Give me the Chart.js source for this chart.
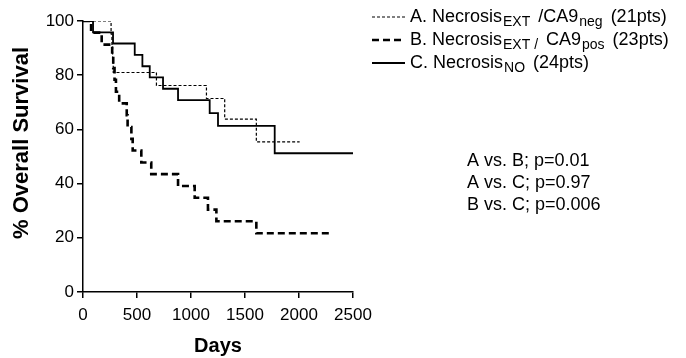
<!DOCTYPE html>
<html>
<head>
<meta charset="utf-8">
<script src="https://cdn.jsdelivr.net/npm/chart.js@4/dist/chart.umd.min.js"></script>
<style>
  body { margin: 0; background: #fff; }
  #survival { display: block; }
</style>
</head>
<body>
<canvas id="survival" width="686" height="358"></canvas>
<script>
// Kaplan-Meier curves, days at which the curve drops and the new survival %
const xTicks = [0, 500, 1000, 1500, 2000, 2500];
const yTicks = [0, 20, 40, 60, 80, 100];

const daysA = [0, 260, 268, 274, 280, 680, 1143, 1312, 1605, 2006];
const survA = [100, 95.2, 90.5, 85.7, 81.0, 76.2, 71.4, 63.8, 55.4, 55.4];

const daysB = [0, 75, 173, 270, 280, 292, 305, 335, 405, 413, 448, 460, 540, 632, 880, 1034, 1157, 1235, 1605, 2284];
const survB = [100, 95.7, 91.3, 87.0, 82.6, 78.3, 73.9, 69.6, 65.2, 60.9, 56.5, 52.2, 47.8, 43.5, 39.1, 34.8, 30.4, 26.1, 21.7, 21.7];

const daysC = [0, 93, 278, 479, 550, 618, 741, 880, 1173, 1250, 1775, 2500];
const survC = [100, 95.8, 91.7, 87.5, 83.3, 79.2, 75.0, 70.8, 66.0, 61.3, 51.2, 51.2];

// legend text pieces: [normal, subscript, normal, subscript, normal]
const legendA = ['A. Necrosis', 'EXT', ' /CA9', 'neg', ' (21pts)'];
const legendB = ['B. Necrosis', 'EXT /', ' CA9', 'pos', ' (23pts)'];
const legendC = ['C. Necrosis', 'NO', ' (24pts)'];
const pValues = ['A vs. B; p=0.01', 'A vs. C; p=0.97', 'B vs. C; p=0.006'];

const FONT = '"Liberation Sans", Arial, Helvetica, sans-serif';

function points(xs, ys) {
    var out = [];
    for (var i = 0; i < xs.length; i++) out.push({x: xs[i], y: ys[i]});
    return out;
}

const styleA = {borderDash: [3, 2], borderWidth: 1.2};
const styleB = {borderDash: [7, 4], borderWidth: 2.6};
const styleC = {borderDash: [], borderWidth: 1.8};

const extras = {
    id: 'extras',
    afterDraw(chart) {
        const c = chart.ctx;
        const area = chart.chartArea;
        c.save();
        c.fillStyle = '#000';
        c.strokeStyle = '#000';

        // axis titles
        c.font = 'bold 20px ' + FONT;
        c.textAlign = 'center';
        c.textBaseline = 'middle';
        c.fillText('Days', (area.left + area.right) / 2, 346);
        c.save();
        c.translate(22, 143);
        c.rotate(-Math.PI / 2);
        c.font = 'bold 22px ' + FONT;
        c.fillText('% Overall Survival', 0, 0);
        c.restore();

        // legend
        const rows = [[legendA, styleA, 17], [legendB, styleB, 40], [legendC, styleC, 63]];
        rows.forEach(function(r) {
            const parts = r[0], st = r[1], y = r[2];
            c.beginPath();
            c.lineWidth = st.borderWidth;
            c.setLineDash(st.borderDash);
            c.moveTo(372, y);
            c.lineTo(405, y);
            c.stroke();
            c.setLineDash([]);
            var x = 410;
            c.textAlign = 'left';
            for (var i = 0; i < parts.length; i++) {
                var sub = i % 2 === 1;
                c.font = (sub ? '14px ' : '18px ') + FONT;
                c.fillText(parts[i], x, sub ? y + 5 : y);
                x += c.measureText(parts[i]).width + (sub ? 3 : 1);
            }
        });

        // p-values
        c.font = '18px ' + FONT;
        c.textAlign = 'left';
        pValues.forEach(function(t, i) {
            c.fillText(t, 467, 161 + i * 22);
        });
        c.restore();
    }
};

new Chart(document.getElementById('survival'), {
    type: 'line',
    data: {
        datasets: [
            Object.assign({label: 'C', data: points(daysC, survC)}, styleC),
            Object.assign({label: 'B', data: points(daysB, survB)}, styleB),
            Object.assign({label: 'A', data: points(daysA, survA)}, styleA)
        ].map(function(d) {
            return Object.assign(d, {borderColor: '#000', stepped: true, pointRadius: 0, fill: false});
        })
    },
    options: {
        responsive: false,
        animation: false,
        devicePixelRatio: 1,
        layout: {padding: {left: 0, right: 333, top: 21, bottom: 0}},
        plugins: {legend: {display: false}, tooltip: {enabled: false}},
        scales: {
            x: {
                type: 'linear',
                min: 0,
                max: 2500,
                afterBuildTicks: function(s) { s.ticks = xTicks.map(function(v) { return {value: v}; }); },
                afterFit: function(s) { s.height = 66; },
                ticks: {color: '#000', font: {family: FONT, size: 17}, padding: 7, maxRotation: 0,
                        callback: function(v) { return String(v); }},
                grid: {drawOnChartArea: false, color: '#000', lineWidth: 1.5, tickLength: 6},
                border: {color: '#000', width: 1.5}
            },
            y: {
                min: 0,
                max: 100,
                afterBuildTicks: function(s) { s.ticks = yTicks.map(function(v) { return {value: v}; }); },
                afterFit: function(s) { s.width = 83; },
                ticks: {color: '#000', font: {family: FONT, size: 17}, padding: 3,
                        callback: function(v) { return String(v); }},
                grid: {drawOnChartArea: false, color: '#000', lineWidth: 1.5, tickLength: 6},
                border: {color: '#000', width: 1.5}
            }
        }
    },
    plugins: [extras]
});
</script>
</body>
</html>
